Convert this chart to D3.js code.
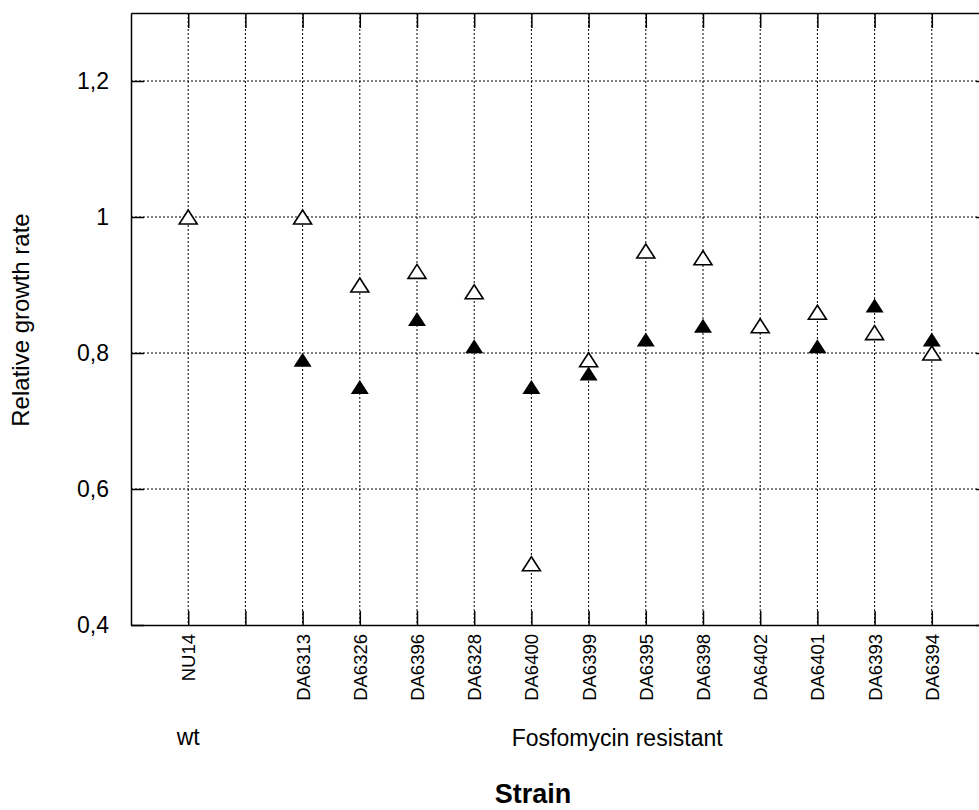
<!DOCTYPE html>
<html>
<head>
<meta charset="utf-8">
<script src="https://cdn.jsdelivr.net/npm/d3@7"></script>
<style>
  body { margin: 0; background: #fff; }
  svg { display: block; }
  svg text { font-family: "Liberation Sans", Arial, sans-serif; }
  .grid line { stroke: #000; stroke-width: 1; stroke-dasharray: 2,2; }
  .axis path, .axis line { stroke: #000; stroke-width: 1.5; }
</style>
</head>
<body>
<svg id="chart" width="979" height="810"></svg>
<script>
// strains along x; the empty slot separates wild type from the resistant ones
const strains = ["NU14", "", "DA6313", "DA6326", "DA6396", "DA6328", "DA6400", "DA6399",
                 "DA6395", "DA6398", "DA6402", "DA6401", "DA6393", "DA6394"];
// open triangles
const openValues = [1.00, null, 1.00, 0.90, 0.92, 0.89, 0.49, 0.79, 0.95, 0.94, 0.84, 0.86, 0.83, 0.80];
// filled triangles
const filledValues = [null, null, 0.79, 0.75, 0.85, 0.81, 0.75, 0.77, 0.82, 0.84, null, 0.81, 0.87, 0.82];
const yTicks = [0.4, 0.6, 0.8, 1.0, 1.2];
const yDomain = [0.4, 1.3];

(function () {
  const svg = d3.select("#chart");
  const pLeft = 131, pRight = 989, pTop = 13, pBottom = 625;

  const x = d3.scalePoint().domain(strains).range([pLeft, pRight]).padding(1);
  const y = d3.scaleLinear().domain(yDomain).range([pBottom, pTop]);

  const fmt = d3.formatLocale({decimal: ",", thousands: ".", grouping: [3], currency: ["", ""]}).format("~g");

  // dotted grid
  const grid = svg.append("g").attr("class", "grid");
  grid.selectAll("line.h")
    .data(yTicks.filter(d => d > yDomain[0]))
    .join("line")
    .attr("class", "h")
    .attr("x1", pLeft).attr("x2", pRight)
    .attr("y1", d => y(d)).attr("y2", d => y(d));
  grid.selectAll("line.v")
    .data(strains)
    .join("line")
    .attr("class", "v")
    .attr("x1", d => x(d)).attr("x2", d => x(d))
    .attr("y1", pTop).attr("y2", pBottom);

  // frame with inward ticks
  const yAxis = svg.append("g")
    .attr("class", "axis")
    .attr("transform", `translate(${pLeft},0)`)
    .call(d3.axisLeft(y).tickValues(yTicks).tickFormat(fmt).tickSizeInner(-13).tickSizeOuter(0).tickPadding(22));
  yAxis.selectAll("text").style("font-size", "23px").attr("fill", "#000");

  svg.append("g")
    .attr("class", "axis")
    .attr("transform", `translate(${pRight},0)`)
    .call(d3.axisRight(y).tickValues(yTicks).tickFormat("").tickSizeInner(-13).tickSizeOuter(0));

  const xAxis = svg.append("g")
    .attr("class", "axis")
    .attr("transform", `translate(0,${pBottom})`)
    .call(d3.axisBottom(x).tickSizeInner(-14).tickSizeOuter(0));
  xAxis.selectAll("text")
    .attr("transform", "rotate(-90)")
    .attr("x", -9).attr("y", 0).attr("dy", "0.35em")
    .attr("text-anchor", "end")
    .attr("fill", "#000")
    .style("font-size", "18.5px");

  svg.append("g")
    .attr("class", "axis")
    .attr("transform", `translate(0,${pTop})`)
    .call(d3.axisTop(x).tickFormat("").tickSizeInner(-15).tickSizeOuter(0));

  // markers
  const tri = "M0,-7L9,7L-9,7Z";
  const pts = vals => strains.map((s, i) => ({s, v: vals[i]})).filter(d => d.v != null);

  svg.append("g").selectAll("path")
    .data(pts(filledValues))
    .join("path")
    .attr("d", tri)
    .attr("transform", d => `translate(${x(d.s)},${y(d.v)})`)
    .attr("fill", "#000");

  svg.append("g").selectAll("path")
    .data(pts(openValues))
    .join("path")
    .attr("d", tri)
    .attr("transform", d => `translate(${x(d.s)},${y(d.v)})`)
    .attr("fill", "#fff")
    .attr("stroke", "#000")
    .attr("stroke-width", 1.6);

  // titles
  svg.append("text")
    .attr("transform", `translate(29,${(pTop + pBottom) / 2 + 1}) rotate(-90)`)
    .attr("text-anchor", "middle")
    .style("font-size", "24px")
    .text("Relative growth rate");

  svg.append("text")
    .attr("x", x("NU14")).attr("y", 745)
    .attr("text-anchor", "middle")
    .style("font-size", "23px")
    .text("wt");

  svg.append("text")
    .attr("x", (x("DA6313") + x("DA6394")) / 2).attr("y", 746)
    .attr("text-anchor", "middle")
    .style("font-size", "23px")
    .text("Fosfomycin resistant");

  svg.append("text")
    .attr("x", 533).attr("y", 803)
    .attr("text-anchor", "middle")
    .style("font-size", "27px")
    .style("font-weight", "bold")
    .text("Strain");
})();
</script>
</body>
</html>
